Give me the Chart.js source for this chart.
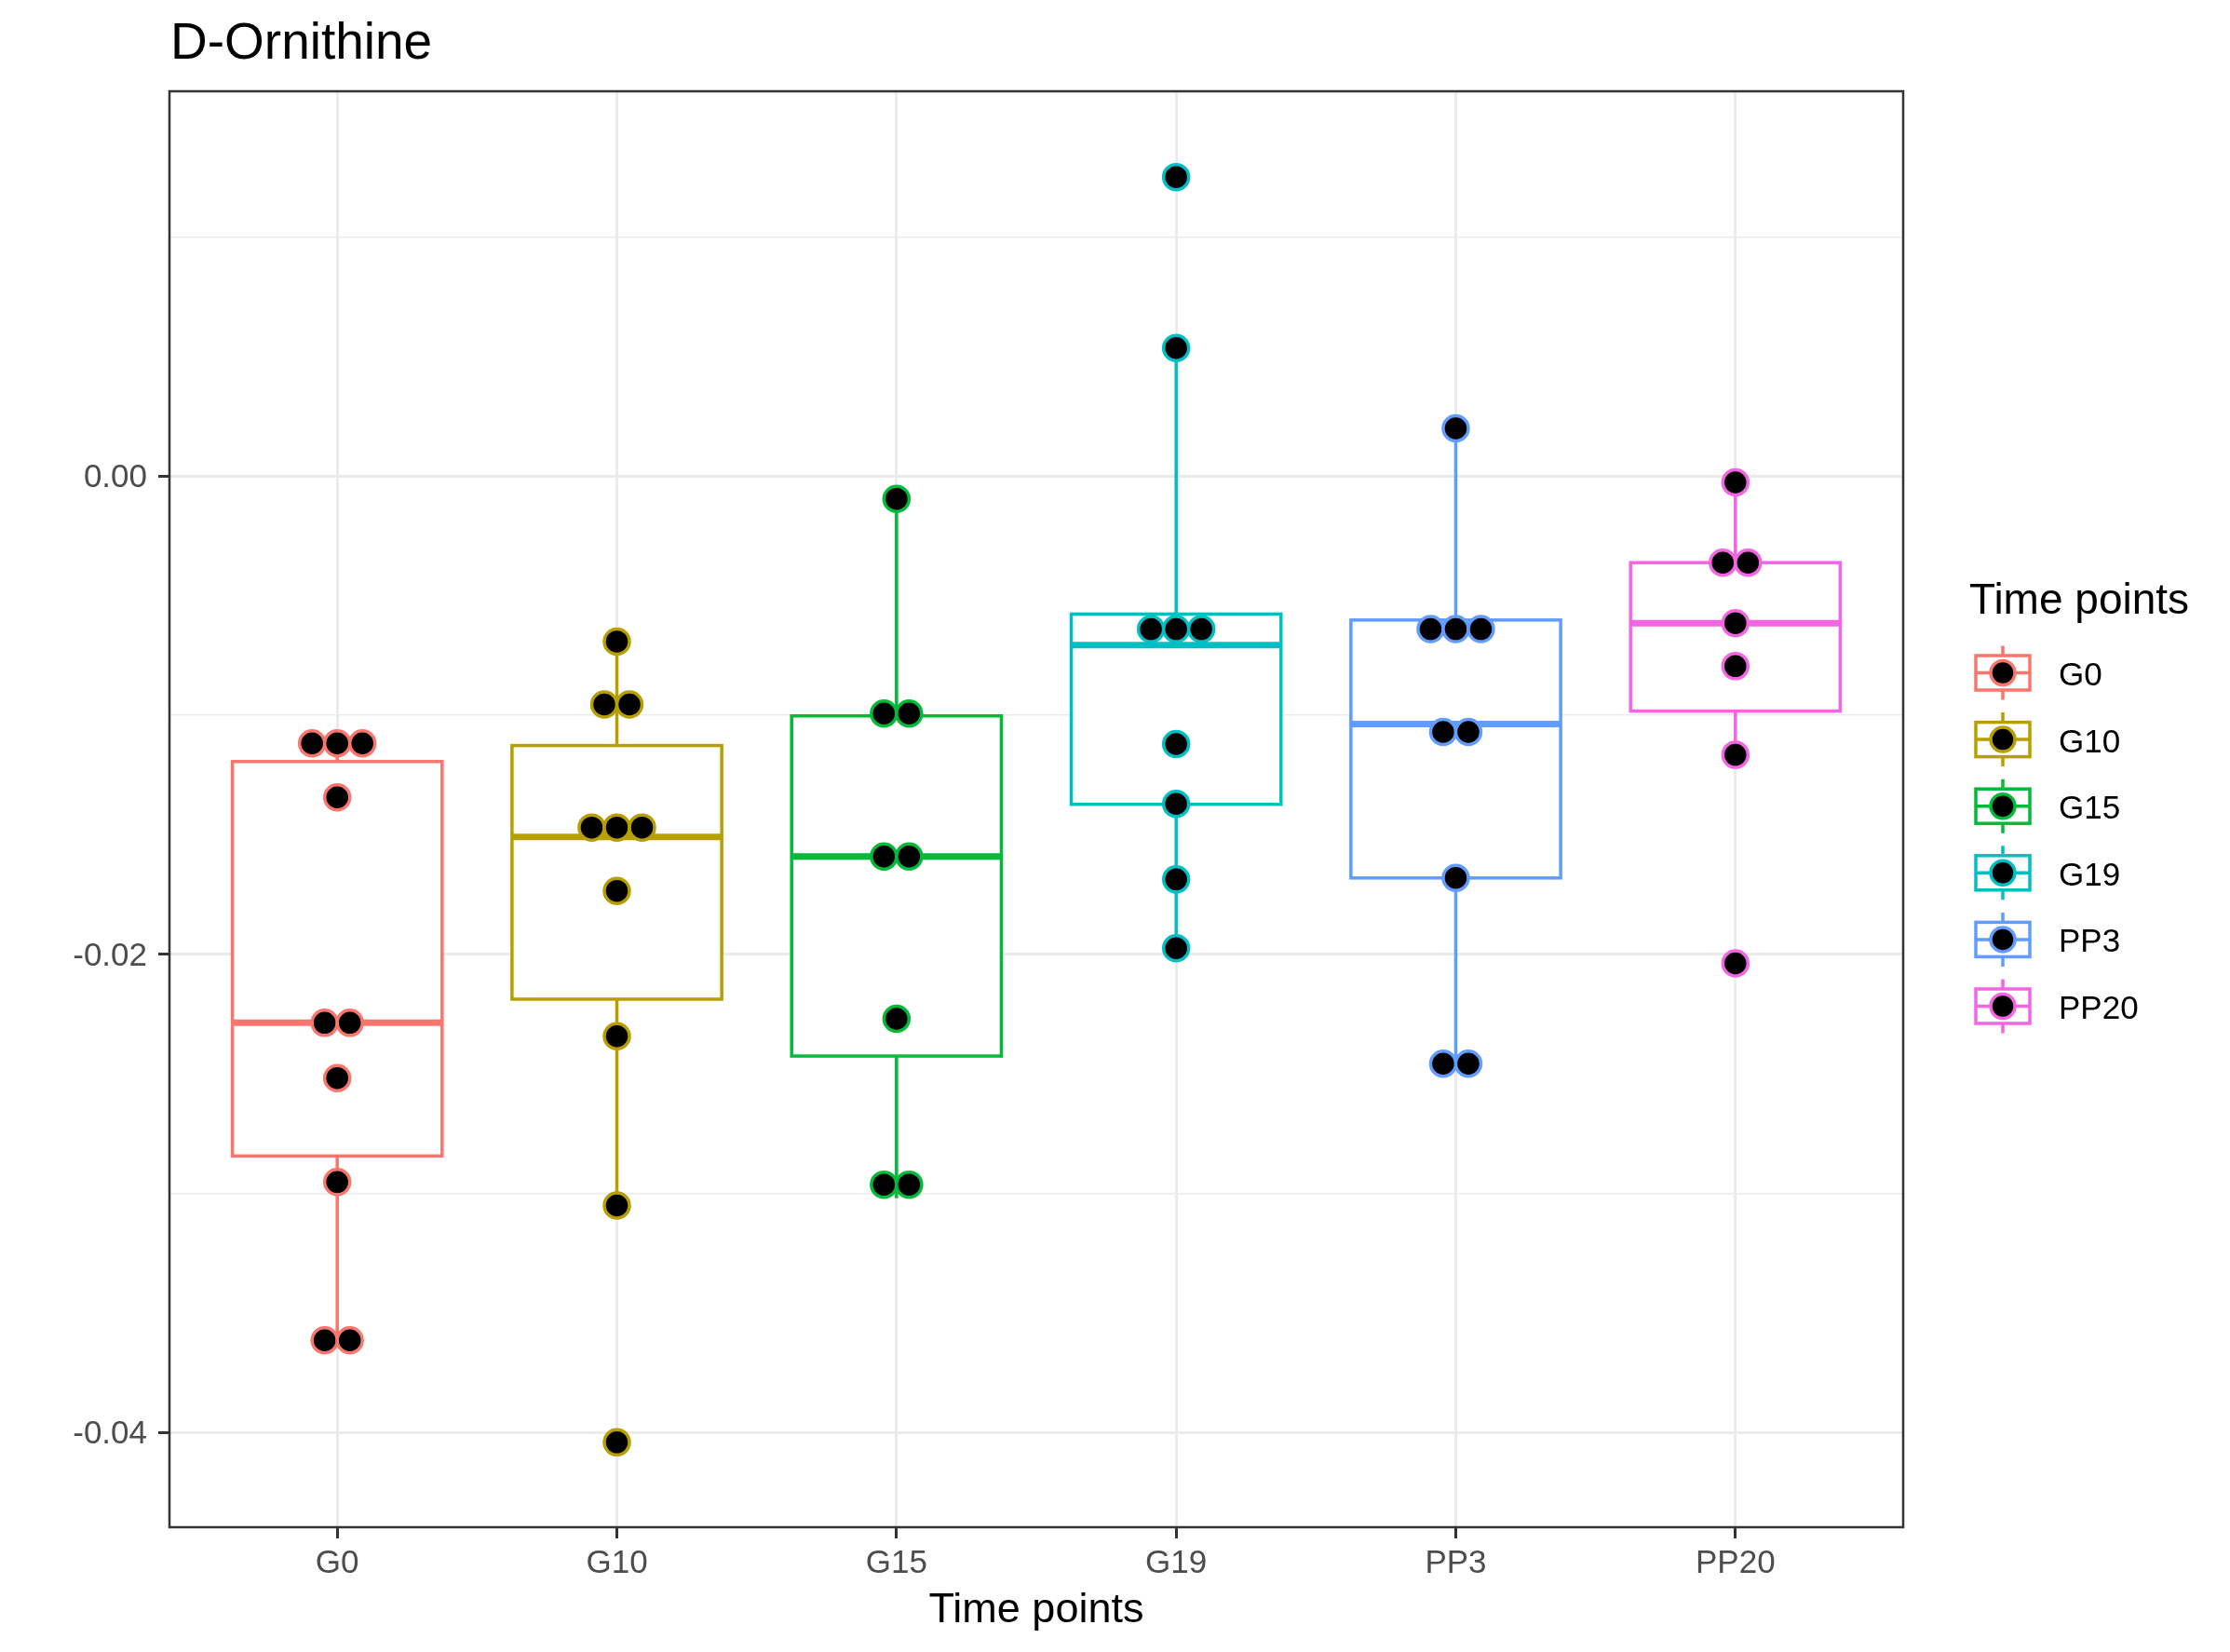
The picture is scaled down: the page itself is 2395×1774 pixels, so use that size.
<!DOCTYPE html>
<html>
<head>
<meta charset="utf-8">
<script src="https://cdn.jsdelivr.net/npm/chart.js@4/dist/chart.umd.min.js"></script>
<style>
  body { margin: 0; background: #fff; }
  canvas { display: block; }
</style>
</head>
<body>
<canvas id="myChart" width="2395" height="1774" style="width:2395px;height:1774px"></canvas>
<script>
// groups on the x axis
let grupos = ['G0', 'G10', 'G15', 'G19', 'PP3', 'PP20'];
let colores = ['#F8766D', '#B79F00', '#00BA38', '#00BFC4', '#619CFF', '#F564E3'];

// measured values (one array per group, repeated values are stacked side by side)
let puntosG0 = [-0.01117, -0.01117, -0.01117, -0.01343, -0.02286, -0.02286, -0.02517, -0.02952, -0.03614, -0.03614];
let puntosG10 = [-0.00691, -0.00954, -0.00954, -0.01469, -0.01469, -0.01469, -0.01734, -0.02342, -0.0305, -0.04041];
let puntosG15 = [-0.00094, -0.00992, -0.00992, -0.0159, -0.0159, -0.02269, -0.02963, -0.02963];
let puntosG19 = [0.01252, 0.00537, -0.00639, -0.00639, -0.00639, -0.0112, -0.0137, -0.01686, -0.01974];
let puntosPP3 = [0.00201, -0.00639, -0.00639, -0.00639, -0.01069, -0.01069, -0.0168, -0.02457, -0.02457];
let puntosPP20 = [-0.00025, -0.00361, -0.00361, -0.00614, -0.00794, -0.01165, -0.02037];
let puntos = [puntosG0, puntosG10, puntosG15, puntosG19, puntosPP3, puntosPP20];

// boxplot stats per group
let bigoteBajo = [-0.03614, -0.0305, -0.0302, -0.0197, -0.02457, -0.01165];
let cuartil1 = [-0.02843, -0.02187, -0.02425, -0.01372, -0.0168, -0.00982];
let mediana = [-0.02286, -0.01508, -0.0159, -0.00706, -0.01036, -0.00614];
let cuartil3 = [-0.01193, -0.01126, -0.01002, -0.00576, -0.00601, -0.00361];
let bigoteAlto = [-0.01117, -0.00691, -0.00094, 0.00537, 0.00201, -0.00025];

// y axis ticks
let yMayores = [-0.04, -0.02, 0.00];
let yEtiquetas = ['-0.04', '-0.02', '0.00'];
let yMenores = [-0.03, -0.01, 0.01];

let fuente = 'Liberation Sans, Arial, Helvetica, sans-serif';
let anchoCaja = 0.75;
let paso = 0.09;

function esMayor(v) {
  return yMayores.some(m => Math.abs(m - v) < 1e-9);
}

// dot positions: equal values sit next to each other around the group centre
function datosGrupo(i) {
  let vals = puntos[i];
  let res = [];
  let k = 0;
  while (k < vals.length) {
    let n = 1;
    while (k + n < vals.length && vals[k + n] === vals[k]) n++;
    for (let j = 0; j < n; j++) {
      res.push({ x: i + (j - (n - 1) / 2) * paso, y: vals[k] });
    }
    k += n;
  }
  return res;
}

let cajas = {
  id: 'cajas',
  beforeDatasetsDraw(chart) {
    let c = chart.ctx;
    let x = chart.scales.x, y = chart.scales.y;
    c.save();
    c.lineCap = 'butt';
    for (let i = 0; i < grupos.length; i++) {
      let xc = x.getPixelForValue(i);
      let x0 = x.getPixelForValue(i - anchoCaja / 2);
      let x1 = x.getPixelForValue(i + anchoCaja / 2);
      let yq1 = y.getPixelForValue(cuartil1[i]);
      let yq3 = y.getPixelForValue(cuartil3[i]);
      c.strokeStyle = colores[i];
      c.lineWidth = 3.5;
      c.beginPath();
      c.moveTo(xc, y.getPixelForValue(bigoteAlto[i]));
      c.lineTo(xc, yq3);
      c.moveTo(xc, yq1);
      c.lineTo(xc, y.getPixelForValue(bigoteBajo[i]));
      c.stroke();
      c.fillStyle = '#ffffff';
      c.fillRect(x0, yq3, x1 - x0, yq1 - yq3);
      c.strokeRect(x0, yq3, x1 - x0, yq1 - yq3);
      c.lineWidth = 7;
      c.beginPath();
      let ym = y.getPixelForValue(mediana[i]);
      c.moveTo(x0, ym);
      c.lineTo(x1, ym);
      c.stroke();
    }
    c.restore();
  },
  afterDraw(chart) {
    let c = chart.ctx;
    let a = chart.chartArea;
    c.save();
    // panel border
    c.strokeStyle = '#333333';
    c.lineWidth = 2.5;
    c.strokeRect(a.left, a.top, a.right - a.left, a.bottom - a.top);
    // title
    c.fillStyle = '#000';
    c.textBaseline = 'alphabetic';
    c.textAlign = 'left';
    c.font = '55px ' + fuente;
    c.fillText('D-Ornithine', a.left + 1, 63);
    // x axis title
    c.textAlign = 'center';
    c.font = '45px ' + fuente;
    c.fillText('Time points', (a.left + a.right) / 2, 1742);
    // legend
    c.textAlign = 'left';
    c.font = '46px ' + fuente;
    c.fillText('Time points', 2115, 659);
    c.font = '35px ' + fuente;
    for (let i = 0; i < grupos.length; i++) {
      let cy = 722.5 + i * 71.6;
      let bx = 2122, bw = 58, bh = 37, cx = bx + bw / 2;
      c.strokeStyle = colores[i];
      c.lineWidth = 3.5;
      c.beginPath();
      c.moveTo(cx, cy - 29); c.lineTo(cx, cy - bh / 2);
      c.moveTo(cx, cy + bh / 2); c.lineTo(cx, cy + 29);
      c.moveTo(bx, cy); c.lineTo(bx + bw, cy);
      c.stroke();
      c.strokeRect(bx, cy - bh / 2, bw, bh);
      c.beginPath();
      c.arc(cx, cy, 13, 0, Math.PI * 2);
      c.fillStyle = '#000';
      c.fill();
      c.stroke();
      c.fillStyle = '#000';
      c.fillText(grupos[i], 2211, cy + 13.5);
    }
    c.restore();
  }
};

let ctx = document.getElementById('myChart').getContext('2d');
let chart = new Chart(ctx, {
  type: 'scatter',
  data: {
    datasets: grupos.map((g, i) => ({
      label: g,
      data: datosGrupo(i),
      backgroundColor: '#000000',
      borderColor: colores[i],
      borderWidth: 3.5,
      pointRadius: 13.5,
      pointHoverRadius: 13.5
    }))
  },
  options: {
    responsive: false,
    animation: false,
    events: [],
    layout: { padding: { top: 98, right: 351, bottom: 0, left: 0 } },
    plugins: { legend: { display: false }, tooltip: { enabled: false }, title: { display: false } },
    scales: {
      x: {
        type: 'linear',
        min: -0.6,
        max: 5.6,
        afterBuildTicks: s => { s.ticks = grupos.map((g, i) => ({ value: i })); },
        afterFit: s => { s.height = 134; },
        ticks: {
          callback: v => grupos[v],
          autoSkip: false,
          maxRotation: 0,
          padding: 6,
          color: '#4D4D4D',
          font: { family: fuente, size: 35 }
        },
        grid: { color: '#EBEBEB', lineWidth: 3, tickLength: 12, tickColor: '#333333', tickWidth: 3 },
        border: { display: false }
      },
      y: {
        type: 'linear',
        min: -0.04396,
        max: 0.01611,
        afterBuildTicks: s => {
          s.ticks = yMayores.concat(yMenores).sort((p, q) => p - q).map(v => ({ value: v }));
        },
        afterFit: s => { s.width = 182; },
        ticks: {
          callback: v => {
            let j = yMayores.findIndex(m => Math.abs(m - v) < 1e-9);
            return j >= 0 ? yEtiquetas[j] : '';
          },
          padding: 12,
          labelOffset: 2,
          color: '#4D4D4D',
          font: { family: fuente, size: 35 }
        },
        grid: {
          color: '#EBEBEB',
          lineWidth: c => esMayor(c.tick.value) ? 3 : 1.5,
          tickLength: 12,
          tickColor: c => esMayor(c.tick.value) ? '#333333' : 'rgba(0,0,0,0)',
          tickWidth: 3
        },
        border: { display: false }
      }
    }
  },
  plugins: [cajas]
});
</script>
</body>
</html>
